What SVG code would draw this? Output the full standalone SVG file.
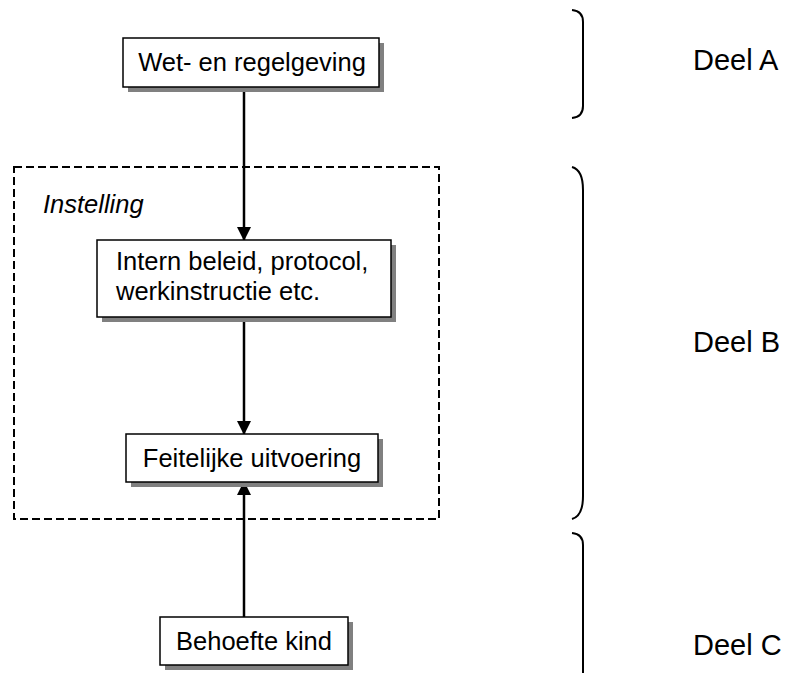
<svg xmlns="http://www.w3.org/2000/svg" width="789" height="673" viewBox="0 0 789 673">
<style>
.box{fill:#fff;stroke:#000;stroke-width:1.5}
.sh{fill:#808080}
.t{font-family:"Liberation Sans",Arial,sans-serif;font-size:25.5px;fill:#000}
.d{font-family:"Liberation Sans",Arial,sans-serif;font-size:29px;fill:#000}
.c{stroke:#000;stroke-width:2.5;fill:none}
.br{stroke:#000;stroke-width:2;fill:none}
</style>
<defs>
<marker id="ah" markerWidth="14" markerHeight="14" refX="13" refY="7" orient="auto" markerUnits="userSpaceOnUse">
<path d="M0,0 L14,7 L0,14 Z" fill="#000"/>
</marker>
</defs>
<rect x="14" y="167" width="425" height="352" fill="none" stroke="#000" stroke-width="2" stroke-dasharray="8 4"/>
<text x="43" y="213" class="t" font-style="italic">Instelling</text>
<g id="connectors">
<line x1="244" y1="87" x2="244" y2="240" class="c" marker-end="url(#ah)"/>
<line x1="244" y1="317" x2="244" y2="434" class="c" marker-end="url(#ah)"/>
<line x1="244" y1="617" x2="244" y2="482" class="c" marker-end="url(#ah)"/>
</g>
<g id="n1">
<rect x="128" y="43" width="256" height="49" class="sh"/>
<rect x="123" y="38" width="256" height="49" class="box"/>
<text x="252" y="71" class="t" text-anchor="middle">Wet- en regelgeving</text>
</g>
<g id="n2">
<rect x="102" y="245" width="294" height="77" class="sh"/>
<rect x="97" y="240" width="294" height="77" class="box"/>
<text x="116" y="270" class="t">Intern beleid, protocol,</text>
<text x="116" y="300" class="t">werkinstructie etc.</text>
</g>
<g id="n3">
<rect x="131" y="439" width="252" height="48" class="sh"/>
<rect x="126" y="434" width="252" height="48" class="box"/>
<text x="252" y="467" class="t" text-anchor="middle">Feitelijke uitvoering</text>
</g>
<g id="n4">
<rect x="165" y="622" width="188" height="48" class="sh"/>
<rect x="160" y="617" width="188" height="48" class="box"/>
<text x="254" y="650" class="t" text-anchor="middle">Behoefte kind</text>
</g>
<g id="braces">
<path d="M572,10 Q583,11 583,22 L583,106 Q583,117 572,118" class="br"/>
<path d="M572,167 Q583,170 583,190 L583,496 Q583,516 572,519" class="br"/>
<path d="M572,533 Q583,534 583,545 L583,680" class="br"/>
</g>
<text x="693" y="70" class="d">Deel A</text>
<text x="693" y="352" class="d">Deel B</text>
<text x="693" y="655" class="d">Deel C</text>
</svg>
